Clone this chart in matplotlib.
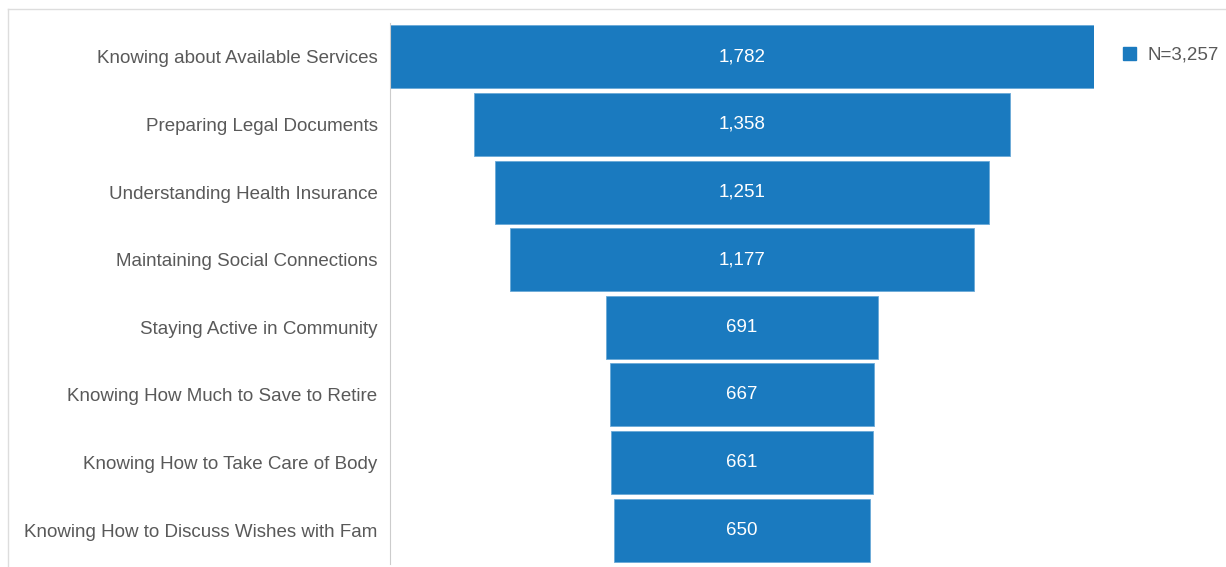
import matplotlib
matplotlib.use("Agg")
import matplotlib.pyplot as plt
from matplotlib.lines import Line2D
from matplotlib.patches import Patch

categories = ["Knowing about Available Services", "Preparing Legal Documents",
              "Understanding Health Insurance", "Maintaining Social Connections",
              "Staying Active in Community", "Knowing How Much to Save to Retire",
              "Knowing How to Take Care of Body", "Knowing How to Discuss Wishes with Fam"]
values = [1782, 1358, 1251, 1177, 691, 667, 661, 650]
series_label = "N=3,257"

plt.rcParams["font.family"] = ["Liberation Sans", "DejaVu Sans"]
BLUE = "#1a7abf"
GRAY = "#595959"

fig = plt.figure(figsize=(12.26, 5.67), dpi=100)
ax = fig.add_axes([390 / 1226, 3 / 567, 704 / 1226, 541 / 567])

y = list(range(len(values)))
lefts = [-v / 2 for v in values]
ax.barh(y, values, left=lefts, height=0.93, color=BLUE, edgecolor="#6aa9d8", linewidth=0.6)
for yi, v in zip(y, values):
    ax.text(0, yi, f"{v:,}", ha="center", va="center", color="white", fontsize=13.5)

m = max(values) / 2
ax.set_xlim(-m, m)
ax.set_ylim(len(values) - 0.5, -0.5)
ax.set_yticks(y)
ax.set_yticklabels(categories, fontsize=13.5, color=GRAY)
ax.tick_params(axis="y", length=0, pad=9)
ax.set_xticks([])
for s in ["top", "right", "bottom"]:
    ax.spines[s].set_visible(False)
ax.spines["left"].set_color("#cccccc")

leg = fig.legend(handles=[Patch(color=BLUE, label=series_label)], loc="upper left",
                 bbox_to_anchor=(1106 / 1226, 1 - 30 / 567), frameon=False,
                 fontsize=13.5, handlelength=0.7, handleheight=0.7, handletextpad=0.6)
for t in leg.get_texts():
    t.set_color(GRAY)

# outer border
fig.add_artist(Line2D([8 / 1226, 1], [1 - 9 / 567, 1 - 9 / 567], color="#dddddd", lw=1))
fig.add_artist(Line2D([8 / 1226, 8 / 1226], [0, 1 - 9 / 567], color="#dddddd", lw=1))

fig.savefig("out.png", dpi=100, facecolor="white")
